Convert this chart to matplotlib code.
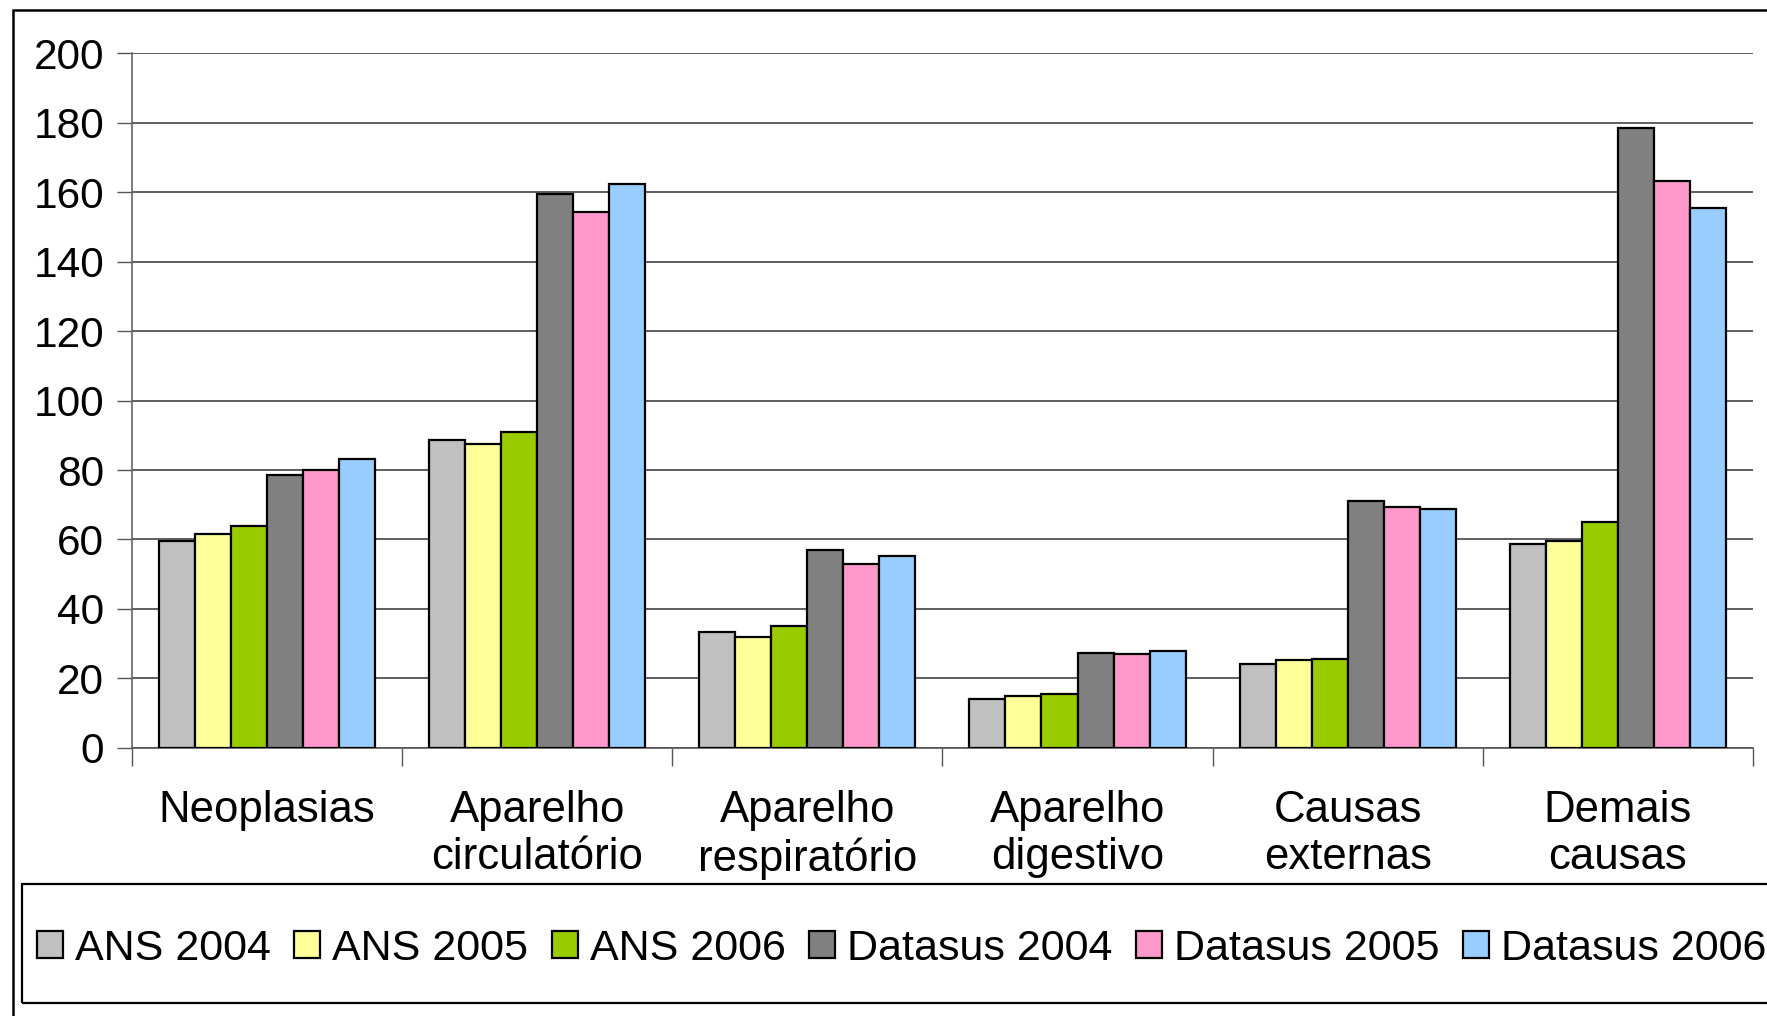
import numpy as np
import matplotlib.pyplot as plt
from matplotlib.patches import Rectangle

plt.rcParams['font.family'] = ['Liberation Sans', 'DejaVu Sans']

categorias = ["Neoplasias", "Aparelho\ncirculatório", "Aparelho\nrespiratório",
              "Aparelho\ndigestivo", "Causas\nexternas", "Demais\ncausas"]
series = ["ANS 2004", "ANS 2005", "ANS 2006", "Datasus 2004", "Datasus 2005", "Datasus 2006"]
cores = ["#C0C0C0", "#FFFF99", "#99CC00", "#808080", "#FF99CC", "#99CCFF"]

ans_2004 = [59.5, 88.5, 33.4, 14.0, 24.2, 58.7]
ans_2005 = [61.7, 87.5, 31.8, 14.9, 25.3, 59.6]
ans_2006 = [63.9, 90.9, 35.0, 15.5, 25.7, 65.0]
datasus_2004 = [78.6, 159.5, 57.0, 27.2, 71.2, 178.5]
datasus_2005 = [80.0, 154.2, 53.0, 27.1, 69.4, 163.1]
datasus_2006 = [83.3, 162.2, 55.2, 27.9, 68.8, 155.4]
valores = [ans_2004, ans_2005, ans_2006, datasus_2004, datasus_2005, datasus_2006]

fig = plt.figure(figsize=(17.67, 10.16), dpi=100)
ax = fig.add_axes([0.0747, 0.2638, 0.9173, 0.684])

x = np.arange(len(categorias))
largura = 0.8 / len(series)
for i, (nome, v) in enumerate(zip(series, valores)):
    pos = x - 0.4 + largura * (i + 0.5)
    ax.bar(pos, v, width=largura, color=cores[i], edgecolor="black",
           linewidth=1.6, label=nome, zorder=3)

ax.set_xlim(-0.5, len(categorias) - 0.5)
ax.set_ylim(0, 200)
ax.set_yticks(range(0, 201, 20))
ax.yaxis.grid(True, color="#333333", linewidth=1.1, zorder=0)
ax.tick_params(axis="y", labelsize=30.5, length=11, width=1, color="#555555", pad=9)

# ticks nas divisas das categorias, rótulos no centro
ax.set_xticks(np.arange(-0.5, len(categorias), 1.0))
ax.set_xticklabels([])
ax.tick_params(axis="x", which="major", length=13, width=1, color="#555555")
ax.set_xticks(x, minor=True)
ax.set_xticklabels(categorias, minor=True, fontsize=31.5, linespacing=1.2)
ax.tick_params(axis="x", which="minor", length=0, pad=30)

for s in ["top", "right"]:
    ax.spines[s].set_visible(False)
ax.spines["left"].set_color("#666666")
ax.spines["bottom"].set_color("#555555")
ax.spines["left"].set_linewidth(1.2)
ax.spines["bottom"].set_linewidth(1.2)

# moldura externa e caixa da legenda
fig.patches.append(Rectangle((13 / 1767, -0.05), 1.2, 1.04, transform=fig.transFigure,
                             fill=False, edgecolor="black", linewidth=1.8))
fig.patches.append(Rectangle((22 / 1767, 1 - 1003 / 1016), 1.2, 119 / 1016,
                             transform=fig.transFigure, fill=False,
                             edgecolor="black", linewidth=1.6))

fig.legend(loc="center left", bbox_to_anchor=(37 / 1767, 1 - 949 / 1016),
           bbox_transform=fig.transFigure, ncol=6, frameon=False, fontsize=31,
           handlelength=0.6, handleheight=0.6, handletextpad=0.28,
           columnspacing=0.55, borderpad=0, borderaxespad=0)

fig.savefig("out.png", dpi=100)
